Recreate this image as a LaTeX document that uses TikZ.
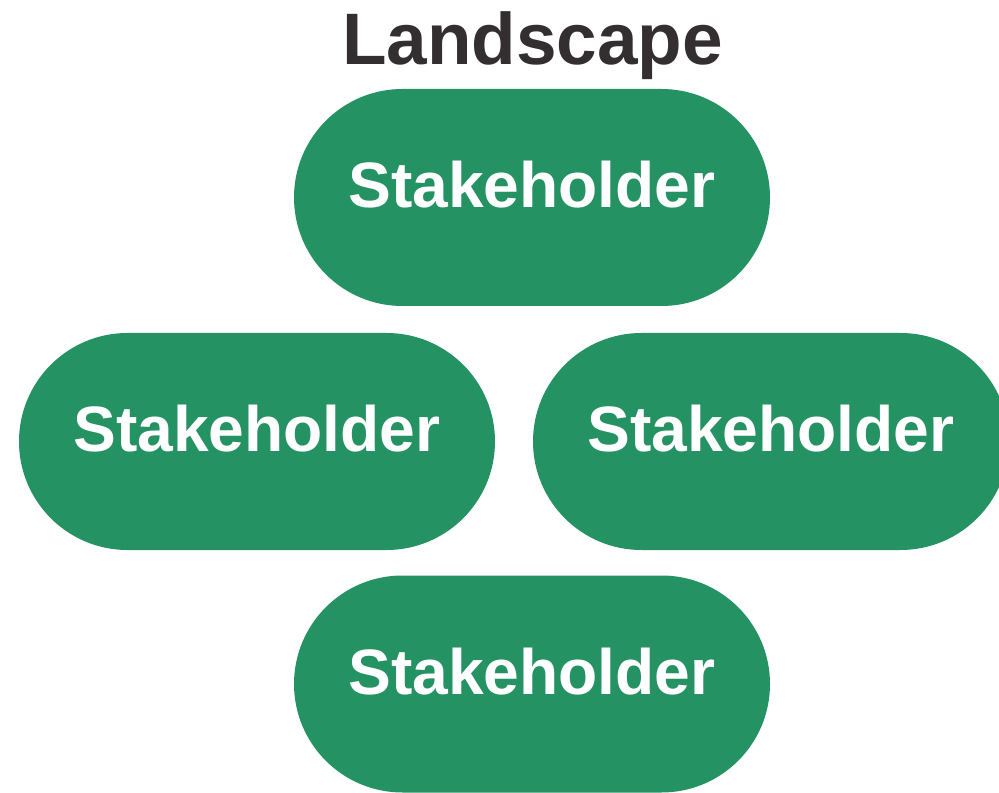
\documentclass[tikz,border=0pt]{standalone}
\usepackage{fontspec}
\setmainfont{Liberation Sans}
\usetikzlibrary{positioning}
\definecolor{shgreen}{HTML}{249262}
\definecolor{titlegray}{HTML}{332E2F}

\begin{document}
\begin{tikzpicture}[
  every node/.style={font=\bfseries},
  holder/.style={rectangle, rounded corners=2.17cm, fill=shgreen, text=white, minimum width=9.52cm, minimum height=4.34cm, text height=0.42cm, text depth=0cm, font=\fontsize{36.5}{40}\bfseries},
]
\useasboundingbox (0,0) rectangle (19.98,-15.86);

\node[font=\fontsize{41.5}{45}\bfseries, text=titlegray, anchor=base] (title) at (10.65, -1.30) {Landscape};

\node[holder] (top) at (10.64, -3.95) {Stakeholder};
\node[holder] (left) at (5.14, -8.83) {Stakeholder};
\node[holder] (right) at (15.42, -8.83) {Stakeholder};
\node[holder] (bottom) at (10.64, -13.68) {Stakeholder};

\end{tikzpicture}
\end{document}
